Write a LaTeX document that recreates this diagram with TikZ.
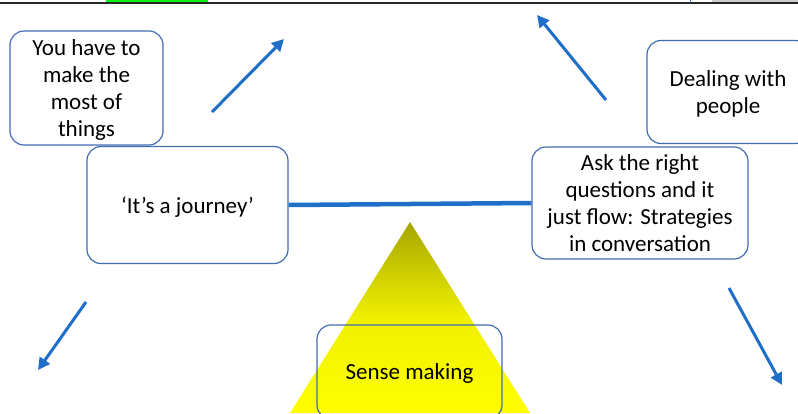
\documentclass[tikz,border=0pt]{standalone}
\usepackage{fontspec}
\setmainfont{Carlito}
\usetikzlibrary{arrows.meta}
\definecolor{boxblue}{RGB}{66,108,178}
\definecolor{arrowblue}{RGB}{31,110,200}
\definecolor{olive}{RGB}{165,165,0}
\definecolor{tabgreen}{RGB}{0,240,20}
\definecolor{tabgrey}{RGB}{205,205,205}
\tikzset{
  box/.style={draw=boxblue, line width=1.2pt, rounded corners=14pt, align=center,
    font=\fontsize{23}{27}\selectfont, inner sep=0pt, text depth=0pt},
  bigarrow/.style={draw=arrowblue, line width=3pt, -{Triangle[length=12pt,width=12pt]}},
  link/.style={draw=arrowblue, line width=4.5pt}
}
\begin{document}
\begin{tikzpicture}[x=1pt,y=-1pt]
\useasboundingbox (0,0) rectangle (798,413);
\clip (0,0) rectangle (798,413);
% top strip
\fill[tabgreen] (106,0) rectangle (208,2.5);
\fill[tabgrey] (712,0) rectangle (798,2.5);
\draw[black!85, line width=2pt] (0,3) -- (798,3);
\draw[boxblue, line width=1pt] (690,0) -- (690,3);
% triangle
\shade[top color=olive, bottom color=yellow, middle color={rgb,255:red,240;green,240;blue,0}]
  (410,222) -- (530,413) -- (290,413) -- cycle;
% boxes
\node[box, minimum width=153, minimum height=114] (most) at (86.5,88)
  {You have to\\make the\\most of\\things};
\node[box, minimum width=201, minimum height=117] (journey) at (187.5,205)
  {‘It’s a journey’};
\node[box, minimum width=162, minimum height=103] (people) at (728,92)
  {Dealing with\\people};
\node[box, minimum width=216, minimum height=112] (ask) at (640,203)
  {Ask the right\\questions and it\\just flow: Strategies\\in conversation};
\node[box, minimum width=185, minimum height=94] (sense) at (409.5,372)
  {Sense making};
% connector
\draw[link] (journey.east) -- (ask.west);
% arrows
\coordinate (a1s) at (212,112); \coordinate (a1e) at (284,39);
\coordinate (a2s) at (606,100); \coordinate (a2e) at (537,15);
\coordinate (a3s) at (86,302);  \coordinate (a3e) at (38,370);
\coordinate (a4s) at (729,288); \coordinate (a4e) at (782,385);
\draw[bigarrow] (a1s) -- (a1e);
\draw[bigarrow] (a2s) -- (a2e);
\draw[bigarrow] (a3s) -- (a3e);
\draw[bigarrow] (a4s) -- (a4e);
\end{tikzpicture}
\end{document}
